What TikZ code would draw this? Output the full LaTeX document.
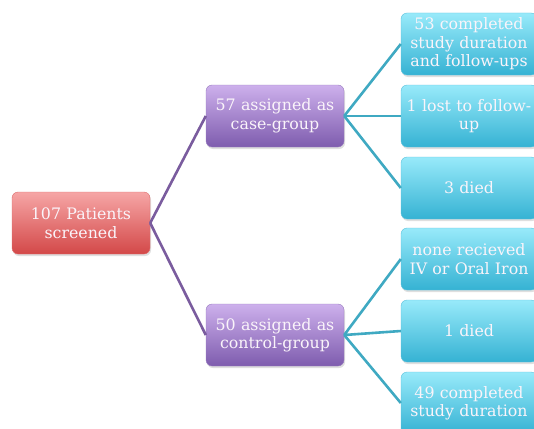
\documentclass[tikz,border=0pt]{standalone}
\usepackage{fontspec}
\setmainfont{DejaVu Serif}
\usetikzlibrary{shadows}
\definecolor{redtop}{HTML}{F6A6A6}
\definecolor{redbot}{HTML}{D34848}
\definecolor{purtop}{HTML}{CDB0EC}
\definecolor{purbot}{HTML}{7E5CAE}
\definecolor{cyantop}{HTML}{98EAFA}
\definecolor{cyanbot}{HTML}{35B2D3}
\definecolor{purline}{HTML}{7A5C9E}
\definecolor{cyanline}{HTML}{3FA9C2}
\definecolor{boxtext}{HTML}{FAF4FA}
\begin{document}
\begin{tikzpicture}[x=1pt,y=-1pt]
        \tikzstyle{box}=[rounded corners=6pt,minimum height=62pt,text width=134pt,
          align=center,inner sep=1pt,text=boxtext,font=\fontsize{15.8}{18.5}\selectfont,
          drop shadow={opacity=0.25,shadow xshift=1pt,shadow yshift=-2pt}]
        \tikzstyle{rootbox}=[box,top color=redtop,bottom color=redbot,draw=redbot!80!white,minimum width=138pt]
        \tikzstyle{groupbox}=[box,top color=purtop,bottom color=purbot,draw=purbot!80!white,minimum width=138pt]
        \tikzstyle{leafbox}=[box,top color=cyantop,bottom color=cyanbot,draw=cyanbot!80!white,minimum width=136pt]
        \tikzstyle{purlink}=[draw=purline,line width=2.6pt]
        \tikzstyle{cyanlink}=[draw=cyanline,line width=2.6pt]

      \useasboundingbox (0,0) rectangle (534,428);
      \clip (0,0) rectangle (534,428);

      \begin{scope}
         \node[rootbox] (p0) at (81,223) {107 Patients\\screened};

         \node[groupbox] (p1) at (275,116) {57 assigned as\\case-group};
         \node[groupbox] (p2) at (275,335) {50 assigned as\\control-group};

         \node[leafbox] (p11) at (469,44)  {53 completed\\study duration\\and follow-ups};
         \node[leafbox] (p12) at (469,116) {1 lost to follow-\\up};
         \node[leafbox] (p13) at (469,188) {3 died};

         \node[leafbox] (p21) at (469,259) {none recieved\\IV or Oral Iron};
         \node[leafbox] (p22) at (469,331) {1 died};
         \node[leafbox] (p23) at (469,403) {49 completed\\study duration};

         \draw[purlink] (p0.east) -- (p1.west);
         \draw[purlink] (p0.east) -- (p2.west);

         \draw[cyanlink] (p1.east) -- (p11.west);
         \draw[cyanlink] (p1.east) -- (p12.west);
         \draw[cyanlink] (p1.east) -- (p13.west);

         \draw[cyanlink] (p2.east) -- (p21.west);
         \draw[cyanlink] (p2.east) -- (p22.west);
         \draw[cyanlink] (p2.east) -- (p23.west);
      \end{scope}
    \end{tikzpicture}
\end{document}
